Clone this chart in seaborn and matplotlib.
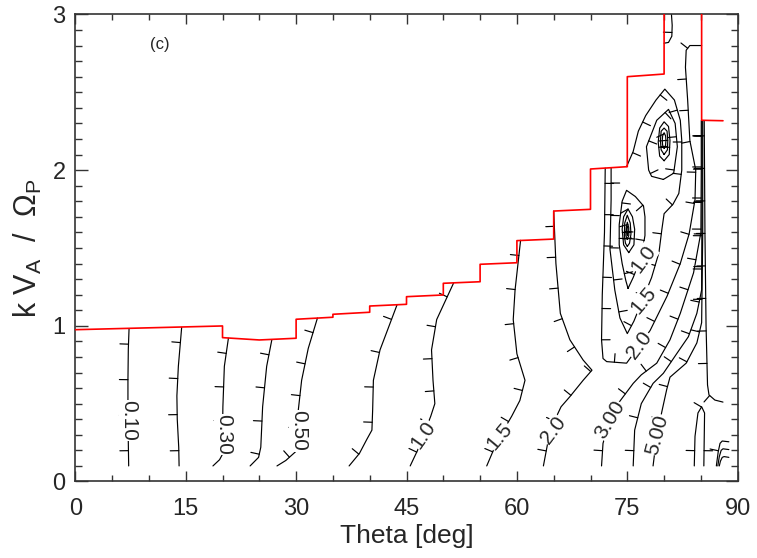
import matplotlib
matplotlib.use('Agg')
import pandas as pd
import seaborn as sns
import matplotlib.pyplot as plt
from matplotlib import patheffects
from matplotlib.ticker import MultipleLocator

# ---- data: (theta [deg], k V_A / Omega_P) ----
# red boundary line
red_theta = [0, 10, 20, 20, 25, 30, 30, 35, 35, 40, 40, 45, 45, 50, 50, 55, 55,
             60, 60, 65, 65, 70, 70, 75, 75, 80, 80, 85.1, 85.1, 88]
red_k = [0.975, 0.987, 0.999, 0.924, 0.909, 0.92, 1.042, 1.055, 1.074, 1.087,
         1.127, 1.138, 1.187, 1.198, 1.273, 1.283, 1.395, 1.405, 1.547, 1.557,
         1.737, 1.748, 2.007, 2.022, 2.60, 2.617, 3.3, 3.3, 2.32, 2.317]

# contour lines, lower part (drawn bottom -> top)
c010 = [(7.25, 0.10), (7.2, 0.25), (7.15, 0.45), (7.15, 0.65), (7.2, 0.85), (7.3, 0.98)]
c020 = [(14.1, 0.10), (14.05, 0.22), (13.85, 0.40), (13.8, 0.55), (14.0, 0.74), (14.45, 0.99)]
c030 = [(18.7, 0.10), (19.6, 0.14), (20.05, 0.18), (20.0, 0.30), (20.05, 0.48), (20.25, 0.74), (20.8, 0.92)]
c040 = [(23.75, 0.10), (24.9, 0.155), (25.2, 0.22), (25.45, 0.48), (26.0, 0.74), (26.7, 0.91)]
c050 = [(27.4, 0.10), (28.6, 0.135), (29.9, 0.19), (30.15, 0.30), (30.3, 0.46), (30.75, 0.65),
        (31.65, 0.855), (32.9, 1.05)]
c075 = [(37.2, 0.10), (38.6, 0.18), (39.6, 0.27), (40.3, 0.33), (40.4, 0.46), (40.5, 0.65),
        (41.4, 0.845), (43.7, 1.133)]
c100 = [(45.5, 0.10), (46.5, 0.20), (47.4, 0.31), (48.3, 0.42), (48.85, 0.50), (48.6, 0.65),
        (48.4, 0.845), (49.1, 1.04), (51.4, 1.275)]
c150 = [(55.9, 0.10), (56.8, 0.20), (57.7, 0.29), (59.3, 0.42), (60.4, 0.52), (61.1, 0.65),
        (60.0, 0.82), (59.5, 1.04), (59.75, 1.23), (60.5, 1.549)]
c200 = [(63.6, 0.10), (64.2, 0.25), (64.8, 0.36), (66.0, 0.48), (67.2, 0.545), (69.0, 0.65),
        (70.2, 0.715), (69.0, 0.78), (67.2, 0.91), (65.9, 1.08), (65.3, 1.40), (65.0, 1.737)]
c300 = [(71.5, 0.10), (71.7, 0.245), (72.6, 0.395), (73.9, 0.51), (75.8, 0.63), (76.9, 0.685),
        (79.0, 0.76), (80.8, 0.91), (82.2, 1.08), (84.0, 1.34), (85.0, 1.6), (85.05, 2.0),
        (85.05, 2.318)]
c400 = [(75.8, 0.10), (76.0, 0.33), (76.9, 0.50), (78.5, 0.63), (79.9, 0.695), (81.7, 0.82),
        (83.3, 0.93), (84.45, 1.08), (85.1, 1.23), (85.15, 1.8), (85.15, 2.318)]
c500 = [(78.5, 0.10), (79.0, 0.29), (79.7, 0.45), (80.35, 0.59), (80.8, 0.67), (83.0, 0.76),
        (84.45, 0.89), (85.1, 1.02), (85.25, 1.6), (85.25, 2.318)]
c_cap = [(84.1, 0.10), (84.2, 0.29), (84.6, 0.44), (85.1, 0.48), (85.5, 0.44), (85.4, 0.10)]
c_edge = [(88.0, 0.51), (86.9, 0.523), (86.1, 0.556), (85.9, 0.62), (85.7, 1.0), (85.55, 1.6),
          (85.45, 2.318)]
c_br1 = [(87.1, 0.10), (87.35, 0.19), (87.6, 0.245), (87.9, 0.26), (88.8, 0.255)]
c_br2 = [(87.3, 0.10), (87.5, 0.16), (87.75, 0.20), (88.0, 0.21), (88.8, 0.205)]
c_br3 = [(87.5, 0.10), (87.65, 0.13), (87.9, 0.155), (88.15, 0.16), (88.8, 0.155)]

# contour lines, upper right part
r200 = [(72.0, 2.013), (71.9, 1.6), (71.6, 1.2), (71.5, 0.91), (71.7, 0.79), (72.2, 0.77),
        (74.9, 0.76), (76.7, 0.877), (78.1, 0.97), (80.4, 1.19), (82.2, 1.40), (83.4, 1.59),
        (84.2, 1.81), (84.3, 2.0), (83.5, 2.19), (83.2, 2.45), (82.9, 2.66), (83.0, 2.77),
        (83.5, 2.80), (85.1, 2.80)]
r150 = [(72.8, 2.015), (72.8, 1.81), (72.65, 1.49), (73.3, 1.23), (74.0, 1.05), (75.0, 0.95),
        (75.9, 1.03), (77.1, 1.17), (78.3, 1.31), (79.3, 1.47), (79.7, 1.62), (80.0, 1.72),
        (81.2, 1.78), (82.0, 1.85), (82.4, 2.0), (82.4, 2.19), (82.2, 2.32), (81.4, 2.45),
        (80.1, 2.52), (78.9, 2.45), (77.5, 2.35), (76.5, 2.25), (75.8, 2.12), (74.9, 2.022)]
r100 = [(75.1, 1.24), (75.8, 1.31), (76.9, 1.44), (77.4, 1.58), (77.4, 1.70), (77.2, 1.77),
        (76.1, 1.83), (74.9, 1.87), (74.3, 1.80), (73.9, 1.65), (73.9, 1.52), (74.3, 1.40),
        (74.8, 1.29), (75.1, 1.24)]
lo1 = [(75.2, 1.47), (75.9, 1.52), (76.0, 1.62), (75.7, 1.70), (75.1, 1.75), (74.5, 1.70),
       (74.3, 1.62), (74.5, 1.52), (75.2, 1.47)]
lo2 = [(75.0, 1.51), (75.3, 1.53), (75.5, 1.59), (75.4, 1.66), (75.0, 1.71), (74.65, 1.66),
       (74.6, 1.58), (74.75, 1.53), (75.0, 1.51)]
lo3 = [(75.0, 1.555), (75.2, 1.58), (75.2, 1.63), (75.0, 1.665), (74.85, 1.63), (74.8, 1.58),
       (75.0, 1.555)]
lo4 = [(75.0, 1.58), (75.1, 1.60), (75.1, 1.625), (75.0, 1.64), (74.9, 1.625), (74.9, 1.60),
       (75.0, 1.58)]
up1 = [(79.9, 1.94), (81.3, 1.98), (81.8, 2.15), (81.5, 2.30), (80.6, 2.39), (79.0, 2.32),
       (77.6, 2.15), (77.9, 2.0), (78.3, 1.96), (79.9, 1.94)]
up2 = [(80.0, 2.06), (80.7, 2.10), (80.8, 2.19), (80.6, 2.28), (80.0, 2.31), (79.4, 2.27),
       (79.2, 2.18), (79.4, 2.09), (80.0, 2.06)]
up3 = [(80.0, 2.10), (80.45, 2.13), (80.5, 2.19), (80.4, 2.25), (80.0, 2.27), (79.6, 2.25),
       (79.5, 2.19), (79.6, 2.13), (80.0, 2.10)]
up4 = [(80.0, 2.14), (80.2, 2.16), (80.25, 2.19), (80.2, 2.22), (80.0, 2.24), (79.8, 2.22),
       (79.75, 2.19), (79.8, 2.16), (80.0, 2.14)]
top_piece = [(80.0, 2.815), (80.6, 2.82), (81.05, 2.86), (81.1, 2.93), (81.0, 3.0)]

contours = [c010, c020, c030, c040, c050, c075, c100, c150, c200, c300, c400, c500,
            c_cap, c_edge, c_br1, c_br2, c_br3, r200, r150, r100, lo1, lo2, lo3, lo4,
            up1, up2, up3, up4, top_piece]

# contour labels: text, theta, k, rotation
label_text = ['0.10', '0.30', '0.50', '1.0', '1.5', '2.0', '3.00', '5.00', '1.0', '1.5', '2.0']
label_theta = [7.2, 20.1, 30.3, 47.3, 57.7, 64.9, 72.6, 79.1, 77.2, 77.2, 76.7]
label_k = [0.39, 0.30, 0.325, 0.30, 0.29, 0.33, 0.395, 0.30, 1.43, 1.165, 0.877]
label_rot = [270, 270, 270, 55, 50, 53, 59, 75, 54, 50, 53]

# ---- style ----
sns.set_style('ticks')
plt.rcParams['font.family'] = ['Liberation Sans', 'DejaVu Sans']
plt.rcParams['mathtext.fontset'] = 'custom'
plt.rcParams['mathtext.rm'] = 'Liberation Sans'
plt.rcParams['mathtext.it'] = 'Liberation Sans:italic'

fig = plt.figure(figsize=(7.57, 5.58), dpi=100)
ax = fig.add_axes([0.0995, 0.1371, 0.875, 0.8371])

# downhill ticks like IDL contours
ticked = [patheffects.withTickedStroke(angle=90, spacing=22, length=0.28, linewidth=0.85)]

for line in contours:
    df = pd.DataFrame(line, columns=['theta', 'k'])
    sns.lineplot(data=df, x='theta', y='k', sort=False, estimator=None, color='black',
                 linewidth=0.85, path_effects=ticked, ax=ax, legend=False, zorder=2)

red_df = pd.DataFrame({'theta': red_theta, 'k': red_k})
sns.lineplot(data=red_df, x='theta', y='k', sort=False, estimator=None, color='red',
             linewidth=1.2, ax=ax, legend=False, zorder=4)

for s, x, y, r in zip(label_text, label_theta, label_k, label_rot):
    ax.text(x, y, s, rotation=r, rotation_mode='anchor', ha='center', va='center',
            fontsize=15, zorder=5,
            bbox=dict(facecolor='white', edgecolor='none', pad=0.2))

ax.text(0.113, 0.925, '(c)', transform=ax.transAxes, fontsize=12)

ax.set_xlim(0, 90)
ax.set_ylim(0, 3)
ax.set_xticks(range(0, 91, 15))
ax.set_yticks([0, 1, 2, 3])
ax.xaxis.set_minor_locator(MultipleLocator(5))
ax.yaxis.set_minor_locator(MultipleLocator(0.1))
ax.tick_params(which='both', direction='in', top=True, right=True, color='#333333')
ax.tick_params(axis='x', which='major', length=7, width=1.0, labelsize=17, pad=12)
ax.tick_params(axis='x', which='minor', length=4, width=1.0)
ax.tick_params(axis='y', which='major', length=9, width=1.0, labelsize=17, pad=7)
ax.tick_params(axis='y', which='minor', length=5, width=1.0)
for sp in ax.spines.values():
    sp.set_color('#333333')
    sp.set_linewidth(1.2)

ax.set_xlabel('Theta [deg]', fontsize=19, labelpad=3)
ax.set_ylabel(r'k V$_{\rm A}$  /  $\Omega_{\rm P}$', fontsize=22, labelpad=6)

fig.savefig('out.png', dpi=100)
